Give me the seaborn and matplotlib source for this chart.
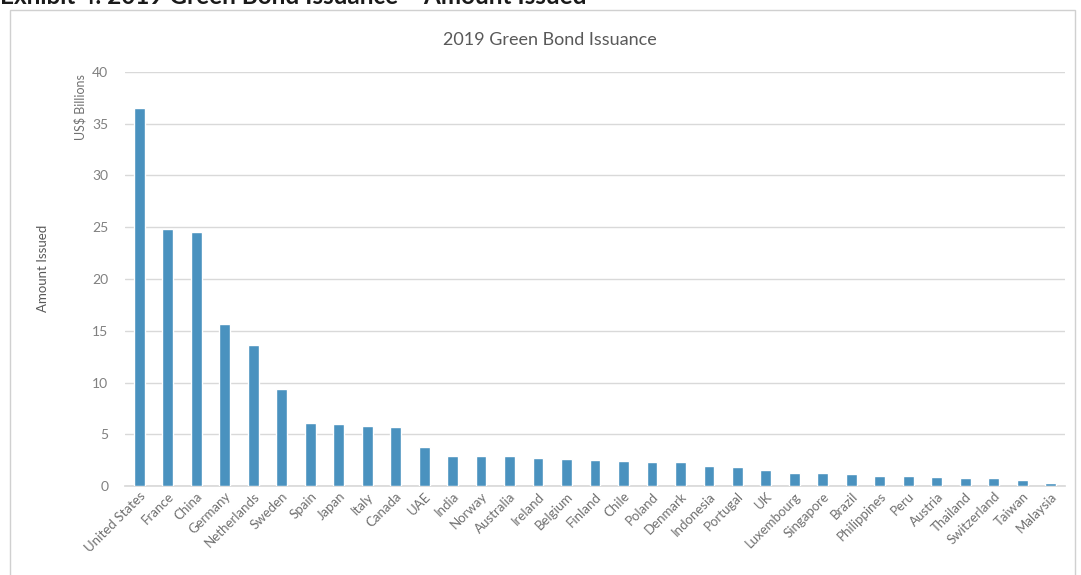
import matplotlib
matplotlib.use("Agg")
import matplotlib.pyplot as plt
import seaborn as sns
import pandas as pd
from matplotlib.patches import Rectangle

countries = ["United States", "France", "China", "Germany", "Netherlands", "Sweden",
             "Spain", "Japan", "Italy", "Canada", "UAE", "India", "Norway", "Australia",
             "Ireland", "Belgium", "Finland", "Chile", "Poland", "Denmark", "Indonesia",
             "Portugal", "UK", "Luxembourg", "Singapore", "Brazil", "Philippines", "Peru",
             "Austria", "Thailand", "Switzerland", "Taiwan", "Malaysia"]
amounts = [36.5, 24.8, 24.5, 15.7, 13.6, 9.4,
           6.1, 6.0, 5.8, 5.7, 3.8, 2.9, 2.9, 2.9,
           2.7, 2.6, 2.55, 2.45, 2.35, 2.3, 1.95,
           1.85, 1.55, 1.25, 1.25, 1.15, 1.0, 1.0,
           0.85, 0.75, 0.75, 0.6, 0.25]
yticks = [0, 5, 10, 15, 20, 25, 30, 35, 40]

df = pd.DataFrame({"country": countries, "amount": amounts})

sns.set_theme(style="white")
plt.rcParams["font.family"] = ["Lato", "DejaVu Sans"]

W, H = 1081, 575
fig = plt.figure(figsize=(W / 100, H / 100), dpi=100)
ax = fig.add_axes([125 / W, 1 - 486 / H, (1065 - 125) / W, (486 - 72) / H])

sns.barplot(data=df, x="country", y="amount", color="#4a92bf", width=0.38,
            saturation=1, ax=ax, zorder=3)

ax.set_ylim(0, 40)
ax.set_xlim(-0.5, len(countries) - 0.5)
ax.set_yticks(yticks)
ax.set_yticklabels([str(t) for t in yticks], color="#808080", fontsize=10)
ax.yaxis.grid(True, color="#d9d9d9", linewidth=1, zorder=0)
ax.set_axisbelow(True)
for s in ["top", "right", "left"]:
    ax.spines[s].set_visible(False)
ax.spines["bottom"].set_color("#d9d9d9")
ax.tick_params(axis="y", length=0, pad=12)
ax.tick_params(axis="x", length=0, pad=3)
ax.set_xticks(range(len(countries)))
ax.set_xticklabels(countries, rotation=45, ha="right", rotation_mode="anchor",
                   color="#707070", fontsize=9.5)
ax.set_xlabel("")
ax.set_ylabel("")

# Axis titles
fig.text(80 / W, 1 - 107 / H, "US$ Billions", rotation=90, ha="center", va="center",
         color="#707070", fontsize=9)
fig.text(43 / W, 1 - 268 / H, "Amount Issued", rotation=90, ha="center", va="center",
         color="#595959", fontsize=9.5)

# Chart title
fig.text(550 / W, 1 - 40 / H, "2019 Green Bond Issuance", ha="center", va="center",
         color="#595959", fontsize=13)

# Exhibit heading, cut off at top of image
fig.text(0 / W, 1 + 3 / H, "Exhibit 4: 2019 Green Bond Issuance \u2013 Amount Issued",
         ha="left", va="center", fontsize=17.5, fontweight="bold", color="#1a1a1a")

# Chart border
fig.patches.append(Rectangle((10 / W, -0.01), (1075 - 10) / W, (1 - 10 / H) + 0.01,
                             transform=fig.transFigure, fill=False,
                             edgecolor="#d0d0d0", linewidth=1))

fig.savefig("out.png", dpi=100)
